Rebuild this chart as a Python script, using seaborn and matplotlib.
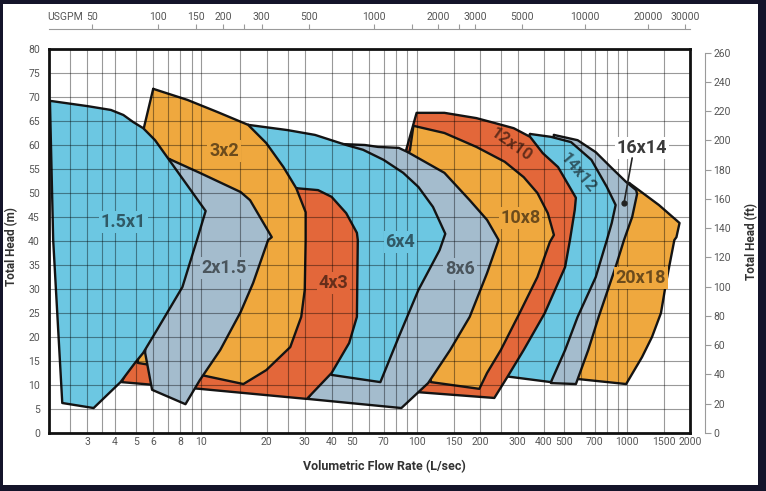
import numpy as np
import pandas as pd
import matplotlib
matplotlib.use("Agg")
import matplotlib.pyplot as plt
from matplotlib.patches import Rectangle
from matplotlib.ticker import FixedLocator, NullFormatter, NullLocator
import seaborn as sns

# ---------------- data (flow L/s, head m) ----------------
q_1_5x1 = [2.02, 3.0, 3.84, 4.38, 4.85, 5.40, 6.12, 10.45, 9.53, 8.17, 6.25, 5.40, 4.95, 4.25, 3.2, 2.30, 2.09]
h_1_5x1 = [69.2, 68.1, 67.3, 66.25, 64.8, 63.5, 61.0, 46.25, 40.2, 30.4, 21.5, 16.7, 14.6, 10.6, 5.2, 6.25, 40.2]

q_2x1_5 = [7.1, 9.82, 15.15, 16.75, 21.1, 20.3, 17.3, 15.15, 12.2, 9.82, 8.44, 5.93, 5.51, 5.8, 6.8]
h_2x1_5 = [57.1, 54.2, 50.2, 48.5, 40.8, 40.2, 31.25, 25.2, 17.3, 11.0, 6.0, 9.0, 16.7, 38.1, 54.8]

q_3x2 = [6.0, 8.61, 11.8, 16.4, 19.9, 23.9, 27.4, 30.3, 30.3, 30.0, 28.9, 25.7, 19.9, 15.6, 10.9, 7.18, 5.1, 5.22, 5.22, 5.45]
h_3x2 = [71.7, 69.4, 66.9, 64.2, 60.4, 55.4, 51.0, 46.0, 40.2, 29.8, 24.2, 17.9, 13.1, 10.2, 11.7, 13.5, 14.6, 27.7, 56.5, 63.75]

q_4x3 = [27.4, 34.6, 40.0, 46.8, 52.5, 53.0, 52.5, 48.3, 40.0, 30.7, 9.8, 4.3, 4.95, 9.8, 18.5, 24.4]
h_4x3 = [51.0, 50.6, 49.2, 45.8, 41.7, 40.2, 24.2, 18.75, 12.5, 7.1, 9.2, 10.6, 16.25, 27.7, 38.1, 48.5]

q_6x4 = [16.4, 25.0, 33.5, 46.8, 56.1, 70.0, 86.5, 102, 119.4, 136.5, 128.3, 102, 82.4, 67.6, 40.0, 34.6, 28.1, 24.4, 19.5]
h_6x4 = [64.2, 63.1, 62.1, 60.0, 59.0, 56.9, 54.2, 51.25, 47.1, 41.5, 38.1, 29.8, 20.0, 10.6, 12.1, 15.2, 38.1, 50.6, 60.0]

q_8x6 = [44.7, 57.2, 65.9, 82.4, 91.0, 135.2, 178, 215, 244, 215, 178, 143.9, 113.3, 84.8, 31.0, 33.9, 38.7, 48.3, 53.5, 45.7]
h_8x6 = [60.2, 60.0, 59.6, 59.4, 58.5, 54.2, 48.5, 44.4, 40.2, 33.3, 24.2, 17.3, 10.4, 5.2, 7.1, 10.0, 14.2, 27.7, 48.5, 59.0]

q_10x8 = [93.1, 96.6, 135.2, 191.5, 260.9, 321, 373, 418, 447, 427.6, 373, 307, 250, 215, 197.7, 116.9, 102, 89.1]
h_10x8 = [59.0, 64.0, 62.5, 59.6, 56.5, 53.3, 50.0, 45.8, 41.25, 39.8, 32.5, 25.0, 17.3, 12.5, 9.2, 10.6, 27.7, 56.9]

q_12x10 = [88.2, 100, 135.2, 191.5, 232.8, 287.7, 344.3, 395.5, 467.7, 569, 562, 533, 505.6, 404.5, 321, 268.7, 232.8, 102, 93.1, 91, 85.7]
h_12x10 = [58.1, 66.7, 66.7, 65.6, 64.6, 63.5, 61.7, 58.3, 55.4, 49.0, 46.5, 40.2, 34.6, 25.0, 17.3, 11.7, 7.3, 8.5, 8.75, 27.7, 56.9]

q_14x12 = [344, 432.5, 539.5, 675, 800, 881, 844, 800, 708, 580, 505.6, 432.5, 255, 373, 442.6, 332.7]
h_14x12 = [62.3, 61.7, 60.6, 56.9, 51.25, 47.5, 43.75, 40.2, 32.5, 24.2, 17.3, 10.6, 11.9, 27.7, 48.5, 61.0]

q_16x14 = [447, 580, 708, 844, 989, 1104, 1116, 1057, 966, 881, 731, 652, 569, 432.5, 467.7, 551, 442.6]
h_16x14 = [62.1, 61.0, 58.5, 55.2, 52.3, 50.6, 49.8, 45.0, 40.2, 34.6, 24.2, 17.3, 10.2, 10.4, 27.7, 48.5, 60.6]

q_20x18 = [1022, 1419, 1782, 1722, 1683, 1535, 1452, 1315, 1178, 989, 580, 551, 731, 910, 1000]
h_20x18 = [52.1, 47.5, 43.75, 40.8, 40.2, 31.25, 25.0, 20.0, 15.8, 10.2, 11.25, 11.5, 31.9, 48.5, 51.5]

# labels
lab_names = ["1.5x1", "3x2", "2x1.5", "4x3", "6x4", "8x6", "10x8", "12x10", "14x12", "16x14", "20x18"]
lab_q = [4.38, 12.7, 12.7, 40.9, 84.0, 160, 310, 279, 580, 1178, 1166]
lab_h = [44.0, 58.75, 34.4, 31.25, 39.8, 34.2, 44.8, 60.0, 54.2, 59.4, 32.3]
lab_rot = [0, 0, 0, 0, 0, 0, 0, -35, -50, 0, 0]
leader_q = [1057, 966]
leader_h = [57.3, 47.9]

# axes ticks
x_tick_vals = [3, 4, 5, 6, 8, 10, 20, 30, 40, 50, 70, 100, 150, 200, 300, 400, 500, 700, 1000, 1500, 2000]
x_grid_vals = [2.5, 3, 3.5, 4, 5, 6, 7, 8, 9, 10, 15, 20, 25, 30, 40, 50, 60, 70, 80, 90, 100,
               150, 200, 250, 300, 400, 500, 600, 700, 800, 900, 1000, 1500]
y_tick_vals = [0, 5, 10, 15, 20, 25, 30, 35, 40, 45, 50, 55, 60, 65, 70, 75, 80]
ft_tick_vals = [0, 20, 40, 60, 80, 100, 120, 140, 160, 180, 200, 220, 240, 260]
gpm_tick_vals = [50, 100, 150, 200, 300, 500, 1000, 2000, 3000, 5000, 10000, 20000, 30000]
gpm_minor_vals = [250, 1500, 2500]
GPM_PER_LPS = 15.85
FT_PER_M = 3.28084

BLUE = "#6CC7E2"
GREY = "#A4BCCD"
ORANGE = "#EFA83E"
RED = "#E3673A"

# The printed flow axis of the reference is a log axis that is slightly
# non-uniform (the middle decades sit a few pixels to the right);
# reproduce that with a gentle warp of the log scale.
WARP = 0.022
L0 = np.log10(2.0)


def fwd(x):
    L = np.log10(np.maximum(np.asarray(x, dtype=float), 1e-9))
    return L + WARP * np.sin(np.pi * (L - L0) / 3.0)


def inv(y):
    y = np.asarray(y, dtype=float)
    L = y.copy()
    for _ in range(12):
        L = y - WARP * np.sin(np.pi * (L - L0) / 3.0)
    return 10.0 ** L


sns.set_theme(style="white")
plt.rcParams["font.family"] = ["Roboto", "DejaVu Sans"]

W, H = 766, 491
fig = plt.figure(figsize=(W / 100, H / 100), dpi=100, facecolor="#14142a")
fig.patches.append(Rectangle((3 / W, 1 - 485 / H), 755 / W, 481 / H, transform=fig.transFigure,
                             facecolor="white", edgecolor="none", zorder=-5))
ax = fig.add_axes([49 / W, 1 - 433 / H, 641 / W, 384 / H])
ax.set_facecolor("white")
ax.set_xscale("function", functions=(fwd, inv))

shapes = [
    ("20x18", q_20x18, h_20x18, ORANGE),
    ("16x14", q_16x14, h_16x14, GREY),
    ("14x12", q_14x12, h_14x12, BLUE),
    ("12x10", q_12x10, h_12x10, RED),
    ("10x8", q_10x8, h_10x8, ORANGE),
    ("8x6", q_8x6, h_8x6, GREY),
    ("6x4", q_6x4, h_6x4, BLUE),
    ("4x3", q_4x3, h_4x3, RED),
    ("3x2", q_3x2, h_3x2, ORANGE),
    ("2x1.5", q_2x1_5, h_2x1_5, GREY),
    ("1.5x1", q_1_5x1, h_1_5x1, BLUE),
]
color_of = {}
for i, (name, q, h, c) in enumerate(shapes):
    z = 1.0 + i * 0.1
    color_of[name] = c
    ax.fill(q, h, facecolor=c, edgecolor="none", zorder=z)
    df = pd.DataFrame({"q": list(q) + [q[0]], "h": list(h) + [h[0]]})
    sns.lineplot(data=df, x="q", y="h", sort=False, estimator=None, color="#141414",
                 linewidth=1.7, ax=ax, zorder=z + 0.05, solid_joinstyle="round")

ax.set_xlim(2, 2000)
ax.set_ylim(0, 80)
ax.set_xlabel("")
ax.set_ylabel("")

ax.xaxis.set_major_locator(FixedLocator(x_tick_vals))
ax.set_xticklabels([str(v) for v in x_tick_vals])
ax.xaxis.set_minor_locator(FixedLocator(x_grid_vals))
ax.xaxis.set_minor_formatter(NullFormatter())
ax.set_yticks(y_tick_vals)
ax.set_yticklabels([str(v) for v in y_tick_vals])
ax.set_axisbelow(False)
ax.grid(True, which="both", axis="x", color="black", alpha=0.4, linewidth=0.8)
ax.grid(True, which="major", axis="y", color="black", alpha=0.4, linewidth=0.8)
ax.tick_params(axis="both", which="both", length=0, labelsize=7.5, labelcolor="#555555")
ax.tick_params(axis="y", pad=6.5)
ax.tick_params(axis="x", pad=3)
for s in ax.spines.values():
    s.set_visible(True)
    s.set_color("#111111")
    s.set_linewidth(2.0)
    s.set_zorder(3)

# top USGPM axis (thin axes sharing the warped flow scale)
axt = fig.add_axes([49 / W, 1 - 29 / H, 641 / W, 0.0001])
axt.set_xscale("function", functions=(fwd, inv))
axt.set_xlim(2, 2000)
axt.patch.set_visible(False)
axt.yaxis.set_major_locator(NullLocator())
for k in ("left", "right", "top"):
    axt.spines[k].set_visible(False)
axt.spines["bottom"].set_color("#9a9a9a")
axt.spines["bottom"].set_linewidth(0.8)
axt.xaxis.tick_top()
axt.xaxis.set_major_locator(FixedLocator([g / GPM_PER_LPS for g in gpm_tick_vals]))
axt.set_xticklabels([str(g) for g in gpm_tick_vals])
axt.xaxis.set_minor_locator(FixedLocator([g / GPM_PER_LPS for g in gpm_minor_vals]))
axt.xaxis.set_minor_formatter(NullFormatter())
axt.tick_params(axis="x", which="both", top=True, bottom=False, direction="out", length=3.5,
                width=0.8, color="#9a9a9a", labelsize=7.5, labelcolor="#555555", pad=1.5)

# right ft axis
secy = ax.secondary_yaxis(1.0234, functions=(lambda m: m * FT_PER_M, lambda f: f / FT_PER_M))
secy.yaxis.set_major_locator(FixedLocator(ft_tick_vals))
secy.set_yticklabels([str(v) for v in ft_tick_vals])
secy.tick_params(axis="y", which="both", direction="out", length=4, width=0.8, color="#9a9a9a",
                 labelsize=7.5, labelcolor="#555555", pad=2)
secy.yaxis.set_minor_locator(FixedLocator([]))
for s in secy.spines.values():
    s.set_color("#9a9a9a")
    s.set_linewidth(0.8)
secy.spines["right"].set_bounds(0, 260)

# shape labels
for name, q, h, r in zip(lab_names, lab_q, lab_h, lab_rot):
    bg = "white" if name == "16x14" else color_of[name]
    tc = "#3a3a3a" if name == "16x14" else (0, 0, 0, 0.55)
    bbox = None if r != 0 else dict(boxstyle="square,pad=0.1", facecolor=bg, edgecolor="none")
    fs = 13 if r == 0 else 12
    ax.text(q, h, name, rotation=r, rotation_mode="anchor", ha="center", va="center",
            fontsize=fs, fontweight="bold", color=tc, zorder=5, bbox=bbox)
ax.plot(leader_q, leader_h, color="#222222", linewidth=1.2, zorder=5)
ax.plot(leader_q[-1:], leader_h[-1:], "o", color="#222222", markersize=3.5, zorder=5)

# axis titles
fig.text(12 / W, 1 - 247 / H, "Total Head (m)", rotation=90, ha="center", va="center",
         fontsize=8.5, fontweight="bold", color="#333333")
fig.text(752 / W, 1 - 241 / H, "Total Head (ft)", rotation=90, ha="center", va="center",
         fontsize=8.5, fontweight="bold", color="#333333")
fig.text(384 / W, 1 - 467 / H, "Volumetric Flow Rate (L/sec)", ha="center", va="center",
         fontsize=9, fontweight="bold", color="#333333")
fig.text(47 / W, 1 - 17 / H, "USGPM", ha="left", va="center", fontsize=7.5, color="#555555")

fig.savefig("out.png", dpi=100, facecolor=fig.get_facecolor())
